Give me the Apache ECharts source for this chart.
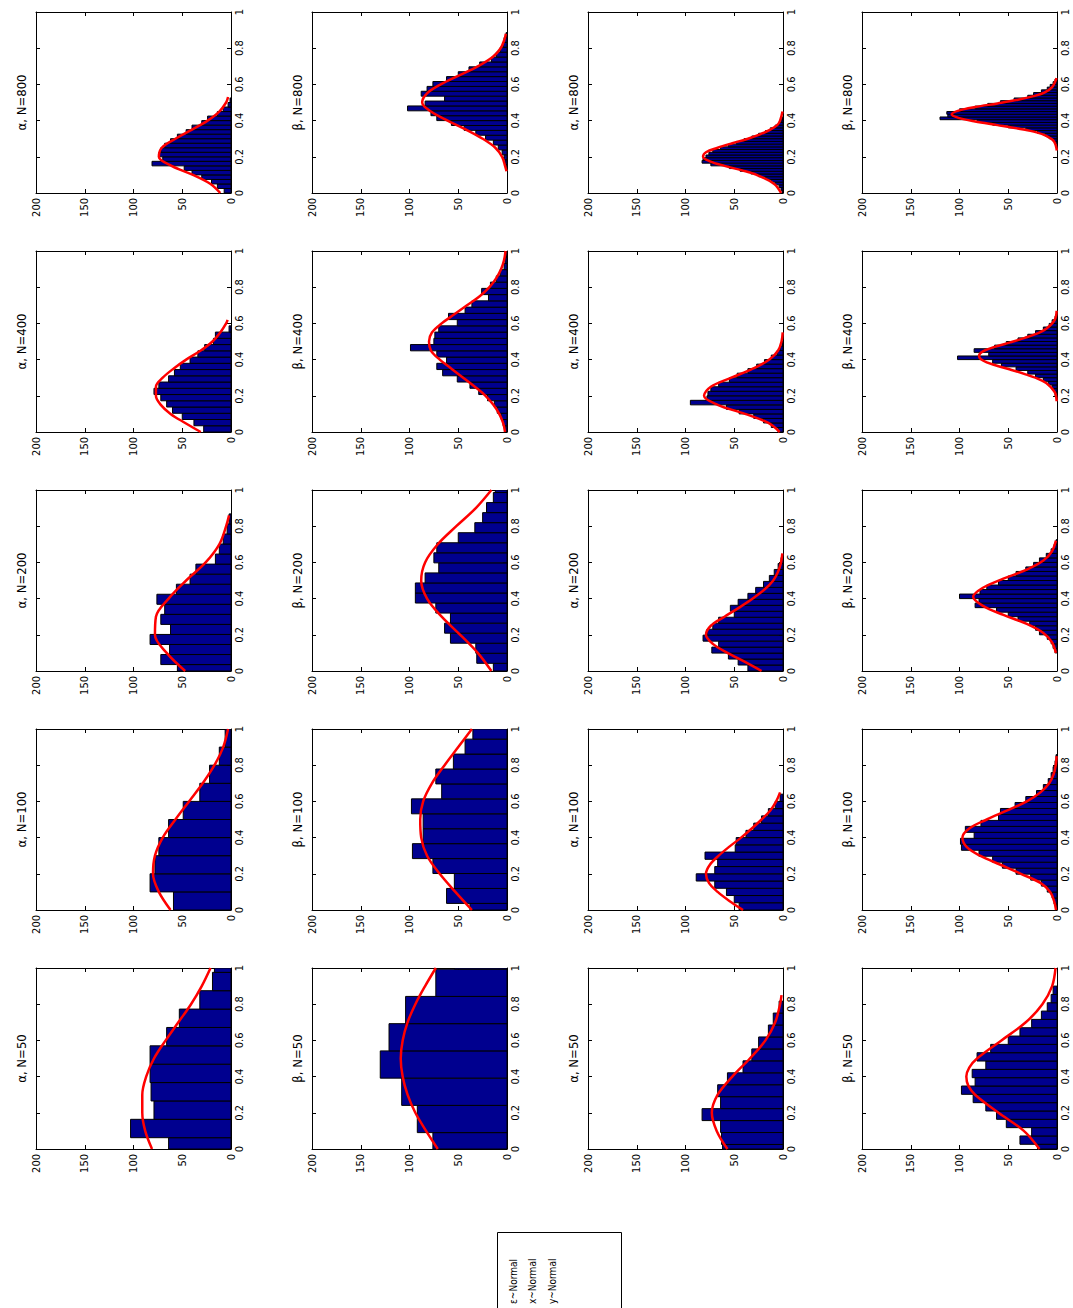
<!DOCTYPE html>
<html>
<head>
<meta charset="utf-8">
<script src="https://cdn.jsdelivr.net/npm/echarts@6/dist/echarts.min.js"></script>
<style>html,body{margin:0;padding:0;background:#fff}#chart{width:1073px;height:1308px}</style>
</head>
<body>
<div id="chart"></div>
<script>
// ---- data ----
const params = ['α', 'β', 'α', 'β'];            // panel columns (left to right)
const sampleSizes = [50, 100, 200, 400, 800];     // panel rows (bottom to top)
const countTicks = [0, 50, 100, 150, 200];
const posTicks = [0, 0.2, 0.4, 0.6, 0.8, 1];
const legendLabels = ['ε~Normal', 'x~Normal', 'y~Normal'];

// first bin edge and bin width per panel [column][row]
const binStart = [
  [-0.039, 0, -0.02, 0, 0],
  [-0.06, -0.046, -0.013, 0, 0.13],
  [-0.041, 0, 0, 0, 0],
  [-0.02, 0, 0.1, 0.2, 0.27]
];
const binWidth = [
  [0.1015, 0.1, 0.0555, 0.0345, 0.025],
  [0.1505, 0.0825, 0.0555, 0.0345, 0.027],
  [0.066, 0.04, 0.033, 0.025, 0.015],
  [0.046, 0.033, 0.025, 0.02, 0.015]
];
// histogram counts per panel [column][row]
const counts = [
  [
    [64, 103, 79, 82, 83, 83, 66, 53, 32, 19, 17],
    [59, 83, 78, 74, 64, 49, 32, 22, 12, 6],
    [55, 72, 63, 83, 62, 72, 68, 76, 56, 42, 36, 16, 12, 8, 4, 2],
    [28, 38, 50, 60, 66, 72, 79, 74, 64, 58, 52, 42, 34, 27, 18, 16, 2],
    [7, 14, 20, 30, 40, 48, 81, 70, 74, 72, 68, 62, 55, 46, 40, 30, 24, 14, 8, 3, 1]
  ],
  [
    [76, 92, 108, 130, 121, 104, 73, 54],
    [38, 62, 54, 76, 97, 86, 86, 98, 67, 73, 55, 43, 35],
    [14, 31, 32, 58, 64, 58, 73, 94, 94, 84, 70, 75, 72, 50, 33, 25, 21, 14, 12],
    [2, 4, 6, 10, 13, 20, 29, 38, 51, 66, 72, 62, 72, 99, 75, 74, 70, 51, 60, 43, 36, 19, 26, 17, 11, 7, 3, 2, 1],
    [1, 2, 3, 5, 9, 14, 22, 32, 44, 57, 72, 78, 102, 84, 64, 88, 82, 76, 62, 50, 39, 28, 16, 11, 7, 4, 3, 1]
  ],
  [
    [62, 63, 64, 83, 64, 67, 57, 41, 32, 25, 15, 10, 4],
    [45, 50, 58, 70, 89, 70, 67, 80, 49, 48, 38, 30, 22, 15, 8, 3],
    [36, 46, 56, 73, 66, 82, 78, 72, 66, 50, 54, 46, 36, 28, 20, 14, 9, 5, 2],
    [5, 12, 20, 30, 45, 58, 95, 78, 77, 74, 66, 55, 47, 36, 27, 19, 12, 6, 3, 1],
    [1, 2, 4, 8, 12, 18, 25, 33, 44, 55, 74, 83, 82, 79, 76, 72, 64, 56, 48, 40, 32, 25, 18, 13, 8, 4, 2, 1]
  ],
  [
    [20, 38, 26, 52, 62, 73, 86, 98, 84, 87, 73, 82, 68, 50, 38, 26, 16, 10, 6, 4],
    [1, 3, 5, 10, 16, 27, 42, 56, 66, 80, 98, 99, 85, 94, 78, 60, 58, 43, 32, 21, 14, 9, 6, 4, 2, 1],
    [2, 4, 6, 10, 18, 22, 28, 40, 50, 62, 84, 80, 100, 79, 72, 60, 50, 42, 32, 24, 18, 11, 6, 3, 1],
    [2, 3, 5, 9, 14, 22, 30, 42, 57, 66, 102, 70, 85, 64, 52, 40, 30, 22, 14, 8, 5, 2],
    [2, 4, 8, 12, 20, 32, 50, 66, 82, 120, 112, 113, 100, 84, 71, 58, 44, 30, 24, 16, 10, 7, 4, 2]
  ]
];
// fitted normal curve, read as [position, count] per panel [column][row]
const fitCurves = [
  [
    [[0,81],[0.1,88],[0.2,91],[0.3,91],[0.4,87],[0.5,79],[0.6,67],[0.7,54],[0.8,41],[0.9,30],[1,21]],
    [[0,62],[0.1,74],[0.2,80],[0.3,78],[0.4,70],[0.5,57],[0.6,43],[0.7,29],[0.8,17],[0.9,8],[1,3]],
    [[0,47],[0.1,66],[0.2,78],[0.3,77],[0.4,64],[0.5,46],[0.6,26],[0.7,12],[0.8,5],[0.86,2]],
    [[0,31],[0.05,47],[0.1,62],[0.15,72],[0.2,77],[0.25,77],[0.3,70],[0.35,59],[0.4,46],[0.45,31],[0.5,19],[0.55,11],[0.6,5],[0.62,3.5]],
    [[0,11],[0.05,21],[0.1,39],[0.15,61],[0.2,74],[0.25,71],[0.3,57],[0.35,40],[0.4,24],[0.45,12],[0.5,5],[0.53,3]]
  ],
  [
    [[0,71],[0.1,83],[0.2,94],[0.3,102],[0.4,107],[0.5,109],[0.6,107],[0.7,102],[0.8,94],[0.9,84],[1,73]],
    [[0,36],[0.1,53],[0.2,69],[0.3,82],[0.4,88],[0.5,89],[0.6,86],[0.7,77],[0.8,64],[0.9,50],[1,36]],
    [[0,16],[0.1,30],[0.2,48],[0.3,67],[0.4,82],[0.5,88],[0.6,84],[0.7,71],[0.8,52],[0.9,32],[1,16]],
    [[0,2],[0.05,4],[0.1,8],[0.15,14],[0.2,22],[0.25,33],[0.3,45],[0.35,57],[0.4,69],[0.45,78],[0.5,80],[0.55,77],[0.6,67],[0.65,54],[0.7,41],[0.75,28],[0.8,18],[0.85,11],[0.9,6],[0.95,3],[1,1.5]],
    [[0.12,0.5],[0.15,2],[0.2,5],[0.25,12],[0.3,25],[0.35,42],[0.4,61],[0.45,78],[0.5,87],[0.55,82],[0.6,68],[0.65,49],[0.7,30],[0.75,15],[0.8,6.5],[0.85,2.5],[0.88,1.2]]
  ],
  [
    [[0,57],[0.1,68],[0.2,73],[0.3,67],[0.4,52],[0.5,34],[0.6,18],[0.7,8],[0.8,3],[0.85,1.5]],
    [[0,41],[0.05,55],[0.1,67],[0.15,76],[0.2,79],[0.25,75],[0.3,66],[0.35,55],[0.4,43],[0.45,32],[0.5,22],[0.55,13],[0.6,7],[0.65,3]],
    [[0,22],[0.05,39],[0.1,57],[0.15,72],[0.2,79],[0.25,74],[0.3,60],[0.35,45],[0.4,31],[0.45,19],[0.5,10],[0.55,5],[0.6,2],[0.65,0.7]],
    [[0,3.4],[0.05,15],[0.1,39],[0.15,67],[0.2,81],[0.25,74],[0.3,53],[0.35,31],[0.4,14],[0.45,5],[0.5,1.5],[0.55,0.3]],
    [[0,2],[0.05,9],[0.1,27],[0.125,42],[0.15,60],[0.175,75],[0.2,82],[0.225,79],[0.25,67],[0.275,52],[0.3,36],[0.325,23],[0.35,13],[0.375,6],[0.4,3],[0.45,0.5]]
  ],
  [
    [[0,18],[0.1,34],[0.2,60],[0.3,84],[0.35,91],[0.4,93],[0.45,90],[0.5,82],[0.6,57],[0.7,32],[0.8,15],[0.9,5],[1,1.5]],
    [[0,1],[0.05,3],[0.1,7],[0.15,17],[0.2,37],[0.25,58],[0.3,79],[0.35,93],[0.4,97],[0.45,90],[0.5,72],[0.55,51],[0.6,31],[0.65,17],[0.7,8],[0.75,3.5],[0.8,1.3],[0.85,0.4]],
    [[0.1,1.1],[0.16,5.3],[0.21,14],[0.26,31],[0.31,55],[0.36,76],[0.41,86],[0.46,76],[0.51,55],[0.56,31],[0.61,14],[0.66,5.3],[0.72,1.1]],
    [[0.17,0.4],[0.22,2.3],[0.27,11],[0.295,20],[0.32,33],[0.345,48],[0.37,64],[0.395,76],[0.42,80],[0.445,76],[0.47,64],[0.495,48],[0.52,33],[0.545,20],[0.57,11],[0.62,2.3],[0.67,0.4]],
    [[0.235,0.2],[0.285,3],[0.315,11],[0.335,21],[0.355,39],[0.375,61],[0.395,84],[0.415,101],[0.435,108],[0.455,101],[0.475,84],[0.495,61],[0.515,40],[0.535,24],[0.555,13],[0.585,5],[0.635,0.5]]
  ]
];

// ---- layout ----
const colLeft = [36, 312, 588, 862];
const rowTop = [968, 729, 490, 251, 12];   // N=50 ... N=800
const panelW = 195, panelH = 181;
const FONT = "'Liberation Sans Narrow','DejaVu Sans Condensed','Arial Narrow',sans-serif";

const grids = [], xAxes = [], yAxes = [], series = [], graphics = [];
const baseAxis = {
  axisLine: { show: true, onZero: false, lineStyle: { color: '#000', width: 1 } },
  axisTick: { show: true, inside: true, length: 4, lineStyle: { color: '#000', width: 1 } },
  splitLine: { show: false }
};
const countLabel = { color: '#000', fontSize: 11, fontFamily: FONT, rotate: 90, margin: 5, showMinLabel: true, showMaxLabel: true };
const posLabel = { color: '#000', fontSize: 11, fontFamily: FONT, rotate: 90, margin: 3, showMinLabel: true, showMaxLabel: true };

for (let c = 0; c < 4; c++) {
  for (let r = 0; r < 5; r++) {
    const gi = grids.length;
    grids.push({ left: colLeft[c], top: rowTop[r], width: panelW, height: panelH, containLabel: false, outerBoundsMode: 'none', show: false });
    const cMin = countTicks[0], cMax = countTicks[countTicks.length - 1];
    const pMin = posTicks[0], pMax = posTicks[posTicks.length - 1];
    const cInt = countTicks[1] - countTicks[0], pInt = posTicks[1] - posTicks[0];
    xAxes.push(Object.assign({}, baseAxis, { gridIndex: gi, type: 'value', min: cMin, max: cMax, interval: cInt, inverse: true, position: 'bottom', axisLabel: countLabel }));
    xAxes.push(Object.assign({}, baseAxis, { gridIndex: gi, type: 'value', min: cMin, max: cMax, interval: cInt, inverse: true, position: 'top', axisLabel: { show: false } }));
    yAxes.push(Object.assign({}, baseAxis, { gridIndex: gi, type: 'value', min: pMin, max: pMax, interval: pInt, position: 'right', axisLabel: posLabel }));
    yAxes.push(Object.assign({}, baseAxis, { gridIndex: gi, type: 'value', min: pMin, max: pMax, interval: pInt, position: 'left', axisLabel: { show: false } }));

    const s0 = binStart[c][r], w = binWidth[c][r];
    const bars = counts[c][r].map((v, k) => [v, s0 + k * w, s0 + (k + 1) * w]);
    series.push({
      type: 'custom',
      xAxisIndex: 2 * gi, yAxisIndex: 2 * gi,
      data: bars,
      clip: true,
      z: 2,
      renderItem: function (p, api) {
        const a = api.coord([0, api.value(1)]);
        const b = api.coord([api.value(0), api.value(2)]);
        const rect = { x: Math.min(a[0], b[0]), y: Math.min(a[1], b[1]), width: Math.abs(b[0] - a[0]), height: Math.abs(b[1] - a[1]) };
        const cs = p.coordSys;
        const cl = echarts.graphic.clipRectByRect(rect, { x: cs.x, y: cs.y, width: cs.width, height: cs.height });
        if (!cl) return null;
        return { type: 'rect', shape: cl, style: { fill: '#00008F', stroke: '#000', lineWidth: 1 } };
      }
    });
    series.push({
      type: 'line',
      xAxisIndex: 2 * gi, yAxisIndex: 2 * gi,
      data: fitCurves[c][r].map(d => [d[1], d[0]]),
      smooth: 0.35,
      symbol: 'none',
      clip: true,
      z: 3,
      lineStyle: { color: '#FF0000', width: 2.5 }
    });
    graphics.push({
      type: 'text',
      x: colLeft[c] - 15, y: rowTop[r] + panelH / 2,
      rotation: Math.PI / 2,
      style: { text: params[c] + ', N=' + sampleSizes[r], fill: '#000', fontSize: 13, fontFamily: FONT, textAlign: 'center', textVerticalAlign: 'middle' }
    });
  }
}

// legend box (cut by the bottom edge)
graphics.push({ type: 'rect', shape: { x: 497.5, y: 1232.5, width: 124, height: 120 }, style: { fill: '#fff', stroke: '#000', lineWidth: 1 } });
const legendX = [513, 532, 552];
legendLabels.forEach((t, i) => {
  graphics.push({
    type: 'text', x: legendX[i], y: 1304, rotation: Math.PI / 2,
    style: { text: t, fill: '#000', fontSize: 10, fontFamily: FONT, textAlign: 'left', textVerticalAlign: 'middle' }
  });
});

const chart = echarts.init(document.getElementById('chart'), null, { renderer: 'svg' });
chart.setOption({
  backgroundColor: '#fff',
  animation: false,
  grid: grids,
  xAxis: xAxes,
  yAxis: yAxes,
  series: series,
  graphic: graphics
});
</script>
</body>
</html>
